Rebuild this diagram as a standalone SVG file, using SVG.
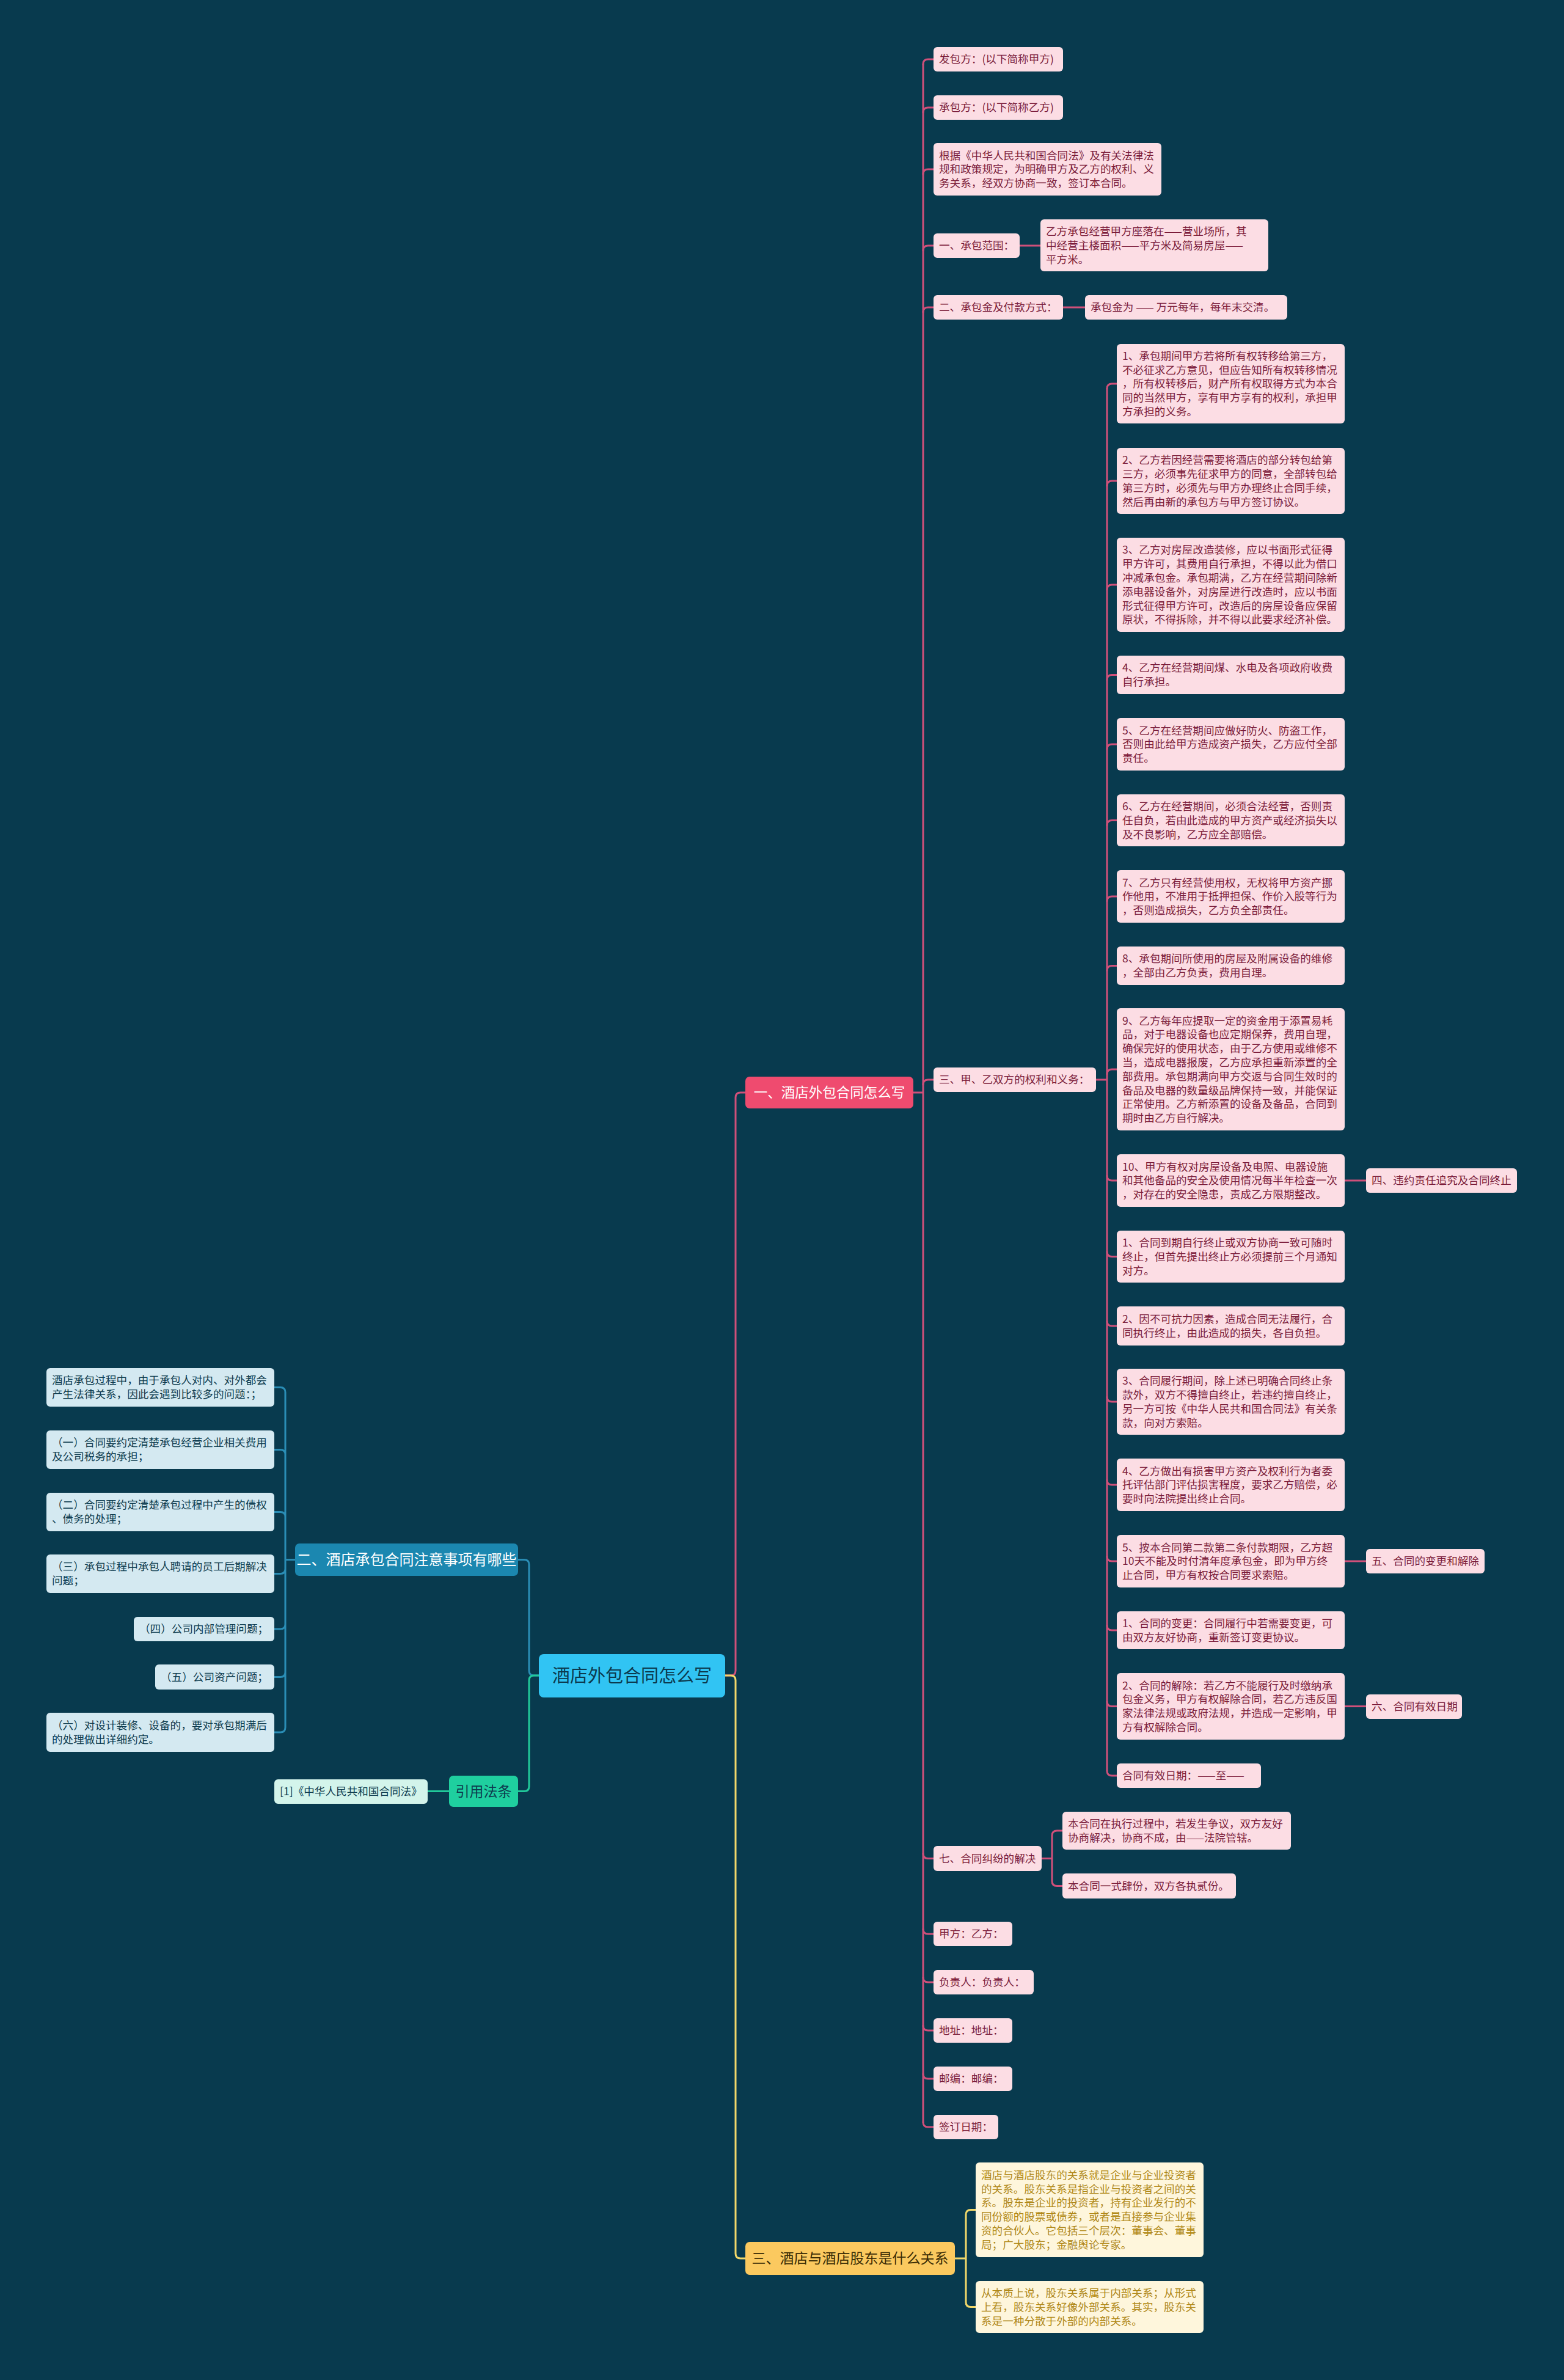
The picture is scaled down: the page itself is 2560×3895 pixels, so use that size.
<svg xmlns="http://www.w3.org/2000/svg" width="2560" height="3895" viewBox="0 0 2560 3895">
<style>
text{font-family:"Noto Sans CJK SC","Noto Sans",sans-serif;}
.t{font-size:17.6px;}
.pk rect{fill:#fcdde4;}
.pk text{fill:#7b1c3a;}
.bl rect{fill:#d4e9f1;}
.bl text{fill:#0d3b4e;}
.gr rect{fill:#d3f4eb;}
.gr text{fill:#0d3b4e;}
.yl rect{fill:#fef6dc;}
.yl text{fill:#b08818;}
.c{fill:none;stroke-width:3;stroke-linecap:round;}
.cr{stroke:#d0507a;}
.cb{stroke:#2a8db5;}
.cg{stroke:#21c99a;}
.cy{stroke:#f2d86a;}
.m{text-anchor:middle;}
</style>
<rect x="0" y="0" width="2560" height="3895" fill="#083a4e"/>

<g id="connectors">
  <path class="c cr" d="M1187 2742 H1196 Q1204 2742 1204 2734 V1796 Q1204 1788 1212 1788 H1220"/>
  <path class="c cy" d="M1187 2742 H1196 Q1204 2742 1204 2750 V3688 Q1204 3696 1212 3696 H1220"/>
  <path class="c cb" d="M882 2742 H874 Q866 2742 866 2734 V2560.5 Q866 2552.5 858 2552.5 H848"/>
  <path class="c cg" d="M882 2742 H874 Q866 2742 866 2750 V2923.5 Q866 2931.5 858 2931.5 H848"/>
  <!-- red trunk -->
  <path class="c cr" d="M1495 1788 H1511 M1511 105 V3473"/>
  <path class="c cr" d="M1511 105 Q1511 97 1519 97 H1528 M1511 184 Q1511 176 1519 176 H1528 M1511 285 Q1511 277 1519 277 H1528 M1511 410 Q1511 402 1519 402 H1528 M1511 511 Q1511 503 1519 503 H1528 M1511 1775 Q1511 1767 1519 1767 H1528 M1511 3033.5 Q1511 3041.5 1519 3041.5 H1528 M1511 3157 Q1511 3165 1519 3165 H1528 M1511 3236 Q1511 3244 1519 3244 H1528 M1511 3315 Q1511 3323 1519 3323 H1528 M1511 3394 Q1511 3402 1519 3402 H1528 M1511 3473 Q1511 3481 1519 3481 H1528"/>
  <path class="c cr" d="M1669 402 H1703 M1740 503 H1776"/>
  <!-- sub trunk of 三 -->
  <path class="c cr" d="M1794 1767 H1812 M1812 636 V2898"/>
  <path class="c cr" d="M1812 636 Q1812 628 1820 628 H1828 M1812 795 Q1812 787 1820 787 H1828 M1812 965 Q1812 957 1820 957 H1828 M1812 1112.5 Q1812 1104.5 1820 1104.5 H1828 M1812 1226 Q1812 1218 1820 1218 H1828 M1812 1350.5 Q1812 1342.5 1820 1342.5 H1828 M1812 1475 Q1812 1467 1820 1467 H1828 M1812 1588.5 Q1812 1580.5 1820 1580.5 H1828 M1812 1758 Q1812 1750 1820 1750 H1828 M1812 1924 Q1812 1932 1820 1932 H1828 M1812 2048.5 Q1812 2056.5 1820 2056.5 H1828 M1812 2162 Q1812 2170 1820 2170 H1828 M1812 2286 Q1812 2294 1820 2294 H1828 M1812 2422 Q1812 2430 1820 2430 H1828 M1812 2547 Q1812 2555 1820 2555 H1828 M1812 2660 Q1812 2668 1820 2668 H1828 M1812 2784.5 Q1812 2792.5 1820 2792.5 H1828 M1812 2898 Q1812 2906 1820 2906 H1828"/>
  <path class="c cr" d="M2201 1932 H2236 M2201 2555 H2236 M2201 2792.5 H2236"/>
  <!-- 七 -->
  <path class="c cr" d="M1705 3041.5 H1722 M1722 3004 V3078.5 M1722 3004 Q1722 2996 1730 2996 H1739 M1722 3078.5 Q1722 3086.5 1730 3086.5 H1739"/>
  <!-- blue -->
  <path class="c cb" d="M483 2552.5 H467 M467 2278.5 V2827 M467 2278.5 Q467 2270.5 459 2270.5 H449 M467 2380.5 Q467 2372.5 459 2372.5 H449 M467 2482.5 Q467 2474.5 459 2474.5 H449 M467 2567.5 Q467 2575.5 459 2575.5 H449 M467 2658 Q467 2666 459 2666 H449 M467 2736.5 Q467 2744.5 459 2744.5 H449 M467 2827 Q467 2835 459 2835 H449"/>
  <!-- green -->
  <path class="c cg" d="M735 2931.5 H700"/>
  <!-- yellow -->
  <path class="c cy" d="M1563 3696 H1581 M1581 3624.5 V3767.5 M1581 3624.5 Q1581 3616.5 1589 3616.5 H1597 M1581 3767.5 Q1581 3775.5 1589 3775.5 H1597"/>
</g>

<g id="root"><rect x="882" y="2707" width="305" height="71" rx="8" fill="#31c4f3"/><text class="m" x="1034.5" y="2753" font-size="29" fill="#0c3a4e">酒店外包合同怎么写</text></g>
<g id="main1"><rect x="1220" y="1762" width="275" height="52" rx="7" fill="#ef4b6f"/><text class="m" x="1357.5" y="1796" font-size="22.5" fill="#ffffff">一、酒店外包合同怎么写</text></g>
<g id="main2"><rect x="483" y="2526" width="365" height="53" rx="7" fill="#1b87b0"/><text class="m" x="665.5" y="2561" font-size="24" fill="#ffffff">二、酒店承包合同注意事项有哪些</text></g>
<g id="main3"><rect x="1220" y="3669" width="343" height="54" rx="7" fill="#fbc95f"/><text class="m" x="1391.5" y="3704" font-size="23" fill="#3a2c05">三、酒店与酒店股东是什么关系</text></g>
<g id="cite"><rect x="735" y="2906" width="113" height="51" rx="7" fill="#1fcf9f"/><text class="m" x="791.5" y="2940" font-size="23" fill="#0d3b4e">引用法条</text></g>

<g class="pk t">
<g id="r1"><rect x="1528" y="77" width="212" height="40" rx="6"/><text x="1537" y="103.3">发包方：(以下简称甲方)</text></g>
<g id="r2"><rect x="1528" y="156" width="212" height="40" rx="6"/><text x="1537" y="182.3">承包方：(以下简称乙方)</text></g>
<g id="r3"><rect x="1528" y="234" width="373" height="86" rx="6"/><text x="1537" y="260.5">根据《中华人民共和国合同法》及有关法律法</text><text x="1537" y="283.3">规和政策规定，为明确甲方及乙方的权利、义</text><text x="1537" y="306.1">务关系，经双方协商一致，签订本合同。</text></g>
<g id="r4"><rect x="1528" y="382" width="141" height="40" rx="6"/><text x="1537" y="408.3">一、承包范围：</text></g>
<g id="r4a"><rect x="1703" y="359" width="373" height="85" rx="6"/><text x="1712" y="384.9">乙方承包经营甲方座落在——营业场所，其</text><text x="1712" y="407.7">中经营主楼面积——平方米及简易房屋——</text><text x="1712" y="430.5">平方米。</text></g>
<g id="r5"><rect x="1528" y="483" width="212" height="40" rx="6"/><text x="1537" y="509.3">二、承包金及付款方式：</text></g>
<g id="r5a"><rect x="1776" y="483" width="331" height="40" rx="6"/><text x="1785" y="509.3">承包金为 —— 万元每年，每年末交清。</text></g>
<g id="r6"><rect x="1528" y="1747" width="266" height="40" rx="6"/><text x="1537" y="1773.3">三、甲、乙双方的权利和义务：</text></g>
<g id="s1"><rect x="1828" y="563" width="373" height="130" rx="6"/><text x="1837" y="588.7">1、承包期间甲方若将所有权转移给第三方，</text><text x="1837" y="611.5">不必征求乙方意见，但应告知所有权转移情况</text><text x="1837" y="634.3">，所有权转移后，财产所有权取得方式为本合</text><text x="1837" y="657.1">同的当然甲方，享有甲方享有的权利，承担甲</text><text x="1837" y="679.9">方承担的义务。</text></g>
<g id="s2"><rect x="1828" y="733" width="373" height="108" rx="6"/><text x="1837" y="759.1">2、乙方若因经营需要将酒店的部分转包给第</text><text x="1837" y="781.9">三方，必须事先征求甲方的同意，全部转包给</text><text x="1837" y="804.7">第三方时，必须先与甲方办理终止合同手续，</text><text x="1837" y="827.5">然后再由新的承包方与甲方签订协议。</text></g>
<g id="s3"><rect x="1828" y="880" width="373" height="154" rx="6"/><text x="1837" y="906.3">3、乙方对房屋改造装修，应以书面形式征得</text><text x="1837" y="929.1">甲方许可，其费用自行承担，不得以此为借口</text><text x="1837" y="951.9">冲减承包金。承包期满，乙方在经营期间除新</text><text x="1837" y="974.7">添电器设备外，对房屋进行改造时，应以书面</text><text x="1837" y="997.5">形式征得甲方许可，改造后的房屋设备应保留</text><text x="1837" y="1020.3">原状，不得拆除，并不得以此要求经济补偿。</text></g>
<g id="s4"><rect x="1828" y="1073" width="373" height="63" rx="6"/><text x="1837" y="1099.4">4、乙方在经营期间煤、水电及各项政府收费</text><text x="1837" y="1122.2">自行承担。</text></g>
<g id="s5"><rect x="1828" y="1175" width="373" height="86" rx="6"/><text x="1837" y="1201.5">5、乙方在经营期间应做好防火、防盗工作，</text><text x="1837" y="1224.3">否则由此给甲方造成资产损失，乙方应付全部</text><text x="1837" y="1247.1">责任。</text></g>
<g id="s6"><rect x="1828" y="1300" width="373" height="85" rx="6"/><text x="1837" y="1326">6、乙方在经营期间，必须合法经营，否则责</text><text x="1837" y="1348.8">任自负，若由此造成的甲方资产或经济损失以</text><text x="1837" y="1371.6">及不良影响，乙方应全部赔偿。</text></g>
<g id="s7"><rect x="1828" y="1424" width="373" height="86" rx="6"/><text x="1837" y="1450.5">7、乙方只有经营使用权，无权将甲方资产挪</text><text x="1837" y="1473.3">作他用，不准用于抵押担保、作价入股等行为</text><text x="1837" y="1496.1">，否则造成损失，乙方负全部责任。</text></g>
<g id="s8"><rect x="1828" y="1549" width="373" height="63" rx="6"/><text x="1837" y="1575.4">8、承包期间所使用的房屋及附属设备的维修</text><text x="1837" y="1598.2">，全部由乙方负责，费用自理。</text></g>
<g id="s9"><rect x="1828" y="1650" width="373" height="200" rx="6"/><text x="1837" y="1676.5">9、乙方每年应提取一定的资金用于添置易耗</text><text x="1837" y="1699.3">品，对于电器设备也应定期保养，费用自理，</text><text x="1837" y="1722.1">确保完好的使用状态，由于乙方使用或维修不</text><text x="1837" y="1744.9">当，造成电器报废，乙方应承担重新添置的全</text><text x="1837" y="1767.7">部费用。承包期满向甲方交返与合同生效时的</text><text x="1837" y="1790.5">备品及电器的数量级品牌保持一致，并能保证</text><text x="1837" y="1813.3">正常使用。乙方新添置的设备及备品，合同到</text><text x="1837" y="1836.1">期时由乙方自行解决。</text></g>
<g id="s10"><rect x="1828" y="1889" width="373" height="86" rx="6"/><text x="1837" y="1915.5">10、甲方有权对房屋设备及电照、电器设施</text><text x="1837" y="1938.3">和其他备品的安全及使用情况每半年检查一次</text><text x="1837" y="1961.1">，对存在的安全隐患，责成乙方限期整改。</text></g>
<g id="s10a"><rect x="2236" y="1912" width="247" height="40" rx="6"/><text x="2245" y="1938.3">四、违约责任追究及合同终止</text></g>
<g id="s11"><rect x="1828" y="2014" width="373" height="85" rx="6"/><text x="1837" y="2040">1、合同到期自行终止或双方协商一致可随时</text><text x="1837" y="2062.8">终止，但首先提出终止方必须提前三个月通知</text><text x="1837" y="2085.6">对方。</text></g>
<g id="s12"><rect x="1828" y="2138" width="373" height="64" rx="6"/><text x="1837" y="2164.9">2、因不可抗力因素，造成合同无法履行，合</text><text x="1837" y="2187.7">同执行终止，由此造成的损失，各自负担。</text></g>
<g id="s13"><rect x="1828" y="2240" width="373" height="108" rx="6"/><text x="1837" y="2266.1">3、合同履行期间，除上述已明确合同终止条</text><text x="1837" y="2288.9">款外，双方不得擅自终止，若违约擅自终止，</text><text x="1837" y="2311.7">另一方可按《中华人民共和国合同法》有关条</text><text x="1837" y="2334.5">款，向对方索赔。</text></g>
<g id="s14"><rect x="1828" y="2387" width="373" height="86" rx="6"/><text x="1837" y="2413.5">4、乙方做出有损害甲方资产及权利行为者委</text><text x="1837" y="2436.3">托评估部门评估损害程度，要求乙方赔偿，必</text><text x="1837" y="2459.1">要时向法院提出终止合同。</text></g>
<g id="s15"><rect x="1828" y="2512" width="373" height="86" rx="6"/><text x="1837" y="2538.5">5、按本合同第二款第二条付款期限，乙方超</text><text x="1837" y="2561.3">10天不能及时付清年度承包金，即为甲方终</text><text x="1837" y="2584.1">止合同，甲方有权按合同要求索赔。</text></g>
<g id="s15a"><rect x="2236" y="2535" width="194" height="40" rx="6"/><text x="2245" y="2561.3">五、合同的变更和解除</text></g>
<g id="s16"><rect x="1828" y="2637" width="373" height="62" rx="6"/><text x="1837" y="2662.9">1、合同的变更：合同履行中若需要变更，可</text><text x="1837" y="2685.7">由双方友好协商，重新签订变更协议。</text></g>
<g id="s17"><rect x="1828" y="2738" width="373" height="109" rx="6"/><text x="1837" y="2764.6">2、合同的解除：若乙方不能履行及时缴纳承</text><text x="1837" y="2787.4">包金义务，甲方有权解除合同，若乙方违反国</text><text x="1837" y="2810.2">家法律法规或政府法规，并造成一定影响，甲</text><text x="1837" y="2833">方有权解除合同。</text></g>
<g id="s17a"><rect x="2236" y="2773" width="157" height="40" rx="6"/><text x="2245" y="2799.3">六、合同有效日期</text></g>
<g id="s18"><rect x="1828" y="2886" width="236" height="40" rx="6"/><text x="1837" y="2912.3">合同有效日期：——至——</text></g>
<g id="r7"><rect x="1528" y="3021" width="177" height="41" rx="6"/><text x="1537" y="3047.8">七、合同纠纷的解决</text></g>
<g id="r7a"><rect x="1739" y="2965" width="374" height="62" rx="6"/><text x="1748" y="2990.9">本合同在执行过程中，若发生争议，双方友好</text><text x="1748" y="3013.7">协商解决，协商不成，由——法院管辖。</text></g>
<g id="r7b"><rect x="1739" y="3066" width="284" height="41" rx="6"/><text x="1748" y="3092.8">本合同一式肆份，双方各执贰份。</text></g>
<g id="r8"><rect x="1528" y="3145" width="129" height="40" rx="6"/><text x="1537" y="3171.3">甲方：乙方：</text></g>
<g id="r9"><rect x="1528" y="3224" width="164" height="40" rx="6"/><text x="1537" y="3250.3">负责人：负责人：</text></g>
<g id="r10"><rect x="1528" y="3303" width="129" height="40" rx="6"/><text x="1537" y="3329.3">地址：地址：</text></g>
<g id="r11"><rect x="1528" y="3382" width="129" height="40" rx="6"/><text x="1537" y="3408.3">邮编：邮编：</text></g>
<g id="r12"><rect x="1528" y="3461" width="106" height="40" rx="6"/><text x="1537" y="3487.3">签订日期：</text></g>
</g>

<g class="bl t">
<g id="l0"><rect x="76" y="2239" width="373" height="63" rx="6"/><text x="85" y="2265.4">酒店承包过程中，由于承包人对内、对外都会</text><text x="85" y="2288.2">产生法律关系，因此会遇到比较多的问题：；</text></g>
<g id="l1"><rect x="76" y="2341" width="373" height="63" rx="6"/><text x="85" y="2367.4">（一）合同要约定清楚承包经营企业相关费用</text><text x="85" y="2390.2">及公司税务的承担；</text></g>
<g id="l2"><rect x="76" y="2443" width="373" height="63" rx="6"/><text x="85" y="2469.4">（二）合同要约定清楚承包过程中产生的债权</text><text x="85" y="2492.2">、债务的处理；</text></g>
<g id="l3"><rect x="76" y="2544" width="373" height="63" rx="6"/><text x="85" y="2570.4">（三）承包过程中承包人聘请的员工后期解决</text><text x="85" y="2593.2">问题；</text></g>
<g id="l4"><rect x="219" y="2646" width="230" height="40" rx="6"/><text x="228" y="2672.3">（四）公司内部管理问题；</text></g>
<g id="l5"><rect x="254" y="2724" width="195" height="41" rx="6"/><text x="263" y="2750.8">（五）公司资产问题；</text></g>
<g id="l6"><rect x="76" y="2803" width="373" height="64" rx="6"/><text x="85" y="2829.9">（六）对设计装修、设备的，要对承包期满后</text><text x="85" y="2852.7">的处理做出详细约定。</text></g>
</g>

<g class="gr t">
<g id="g1"><rect x="449" y="2912" width="251" height="40" rx="6"/><text x="458" y="2938.3">[1]《中华人民共和国合同法》</text></g>
</g>

<g class="yl t">
<g id="y1"><rect x="1597" y="3539" width="373" height="155" rx="6"/><text x="1606" y="3565.8">酒店与酒店股东的关系就是企业与企业投资者</text><text x="1606" y="3588.6">的关系。股东关系是指企业与投资者之间的关</text><text x="1606" y="3611.4">系。股东是企业的投资者，持有企业发行的不</text><text x="1606" y="3634.2">同份额的股票或债券，或者是直接参与企业集</text><text x="1606" y="3657">资的合伙人。它包括三个层次：董事会、董事</text><text x="1606" y="3679.8">局；广大股东；金融舆论专家。</text></g>
<g id="y2"><rect x="1597" y="3733" width="373" height="85" rx="6"/><text x="1606" y="3759">从本质上说，股东关系属于内部关系；从形式</text><text x="1606" y="3781.8">上看，股东关系好像外部关系。其实，股东关</text><text x="1606" y="3804.6">系是一种分散于外部的内部关系。</text></g>
</g>
</svg>
